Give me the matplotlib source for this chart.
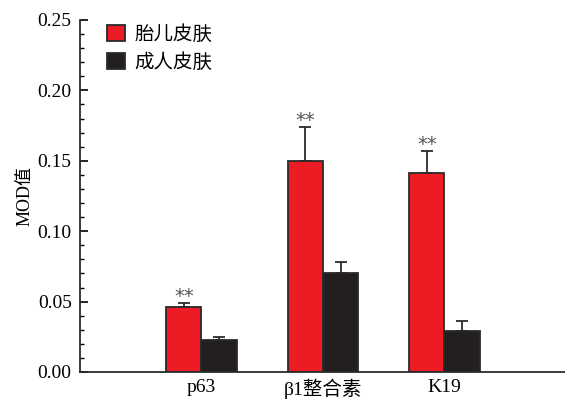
"""MOD values of p63, beta1 integrin and K19 in fetal vs adult skin"""

import numpy as np
import matplotlib
matplotlib.use("Agg")
import matplotlib.pyplot as plt
from matplotlib.ticker import MultipleLocator

plt.rcParams["font.family"] = ["Liberation Serif", "Noto Sans CJK SC"]

# section: data
markers = ["p63", "β1整合素", "K19"]
fetal = [0.046, 0.150, 0.141]
fetal_err = [0.003, 0.024, 0.016]
adult = [0.023, 0.070, 0.029]
adult_err = [0.002, 0.008, 0.007]
significance = ["**", "**", "**"]
series_names = ["胎儿皮肤", "成人皮肤"]


def main():
    fig = plt.figure(figsize=(5.65, 4.0), dpi=100)
    ax = fig.add_axes([0.1416, 0.07, 0.86, 0.88])

    x = np.arange(1, len(markers) + 1)
    width = 0.29
    red = "#ED1C24"
    black = "#231F20"
    edge = "#2b2b2b"

    ax.bar(x - width / 2, fetal, width, color=red, edgecolor=edge,
           linewidth=1.3, label=series_names[0], zorder=2)
    ax.bar(x + width / 2, adult, width, color=black, edgecolor=edge,
           linewidth=1.3, label=series_names[1], zorder=2)
    ax.errorbar(x - width / 2, fetal, yerr=[np.zeros(3), fetal_err],
                fmt="none", ecolor=edge, elinewidth=1.3, capsize=4,
                capthick=1.3, zorder=1)
    ax.errorbar(x + width / 2, adult, yerr=[np.zeros(3), adult_err],
                fmt="none", ecolor=edge, elinewidth=1.3, capsize=4,
                capthick=1.3, zorder=1)

    # section: significance stars
    for xi, v, e, s in zip(x - width / 2, fetal, fetal_err, significance):
        ax.text(xi, v + e - 0.002, s, ha="center", va="bottom",
                fontsize=14, color="#555555", family="DejaVu Sans")

    ax.set_xlim(0, 4)
    ax.set_ylim(0, 0.25)
    ax.set_xticks(x)
    ax.set_xticklabels(markers, fontsize=14)
    ax.tick_params(axis="x", length=0, pad=5)
    ax.yaxis.set_major_locator(MultipleLocator(0.05))
    ax.yaxis.set_minor_locator(MultipleLocator(0.01))
    ax.yaxis.set_major_formatter(plt.FormatStrFormatter("%.2f"))
    ax.tick_params(axis="y", which="major", direction="in", length=6,
                   width=1.2, labelsize=14, pad=6)
    ax.tick_params(axis="y", which="minor", direction="in", length=3,
                   width=1.0)
    ax.set_ylabel("MOD值", fontsize=13, labelpad=3)

    for side in ("top", "right"):
        ax.spines[side].set_visible(False)
    for side in ("left", "bottom"):
        ax.spines[side].set_linewidth(1.3)
        ax.spines[side].set_color(edge)

    ax.legend(loc="upper left", bbox_to_anchor=(0.02, 1.035), frameon=False,
              fontsize=14, handlelength=0.9, handleheight=0.9,
              handletextpad=0.5, labelspacing=0.45)

    fig.savefig("out.png", dpi=100)
    plt.close(fig)


if __name__ == "__main__":
    main()
